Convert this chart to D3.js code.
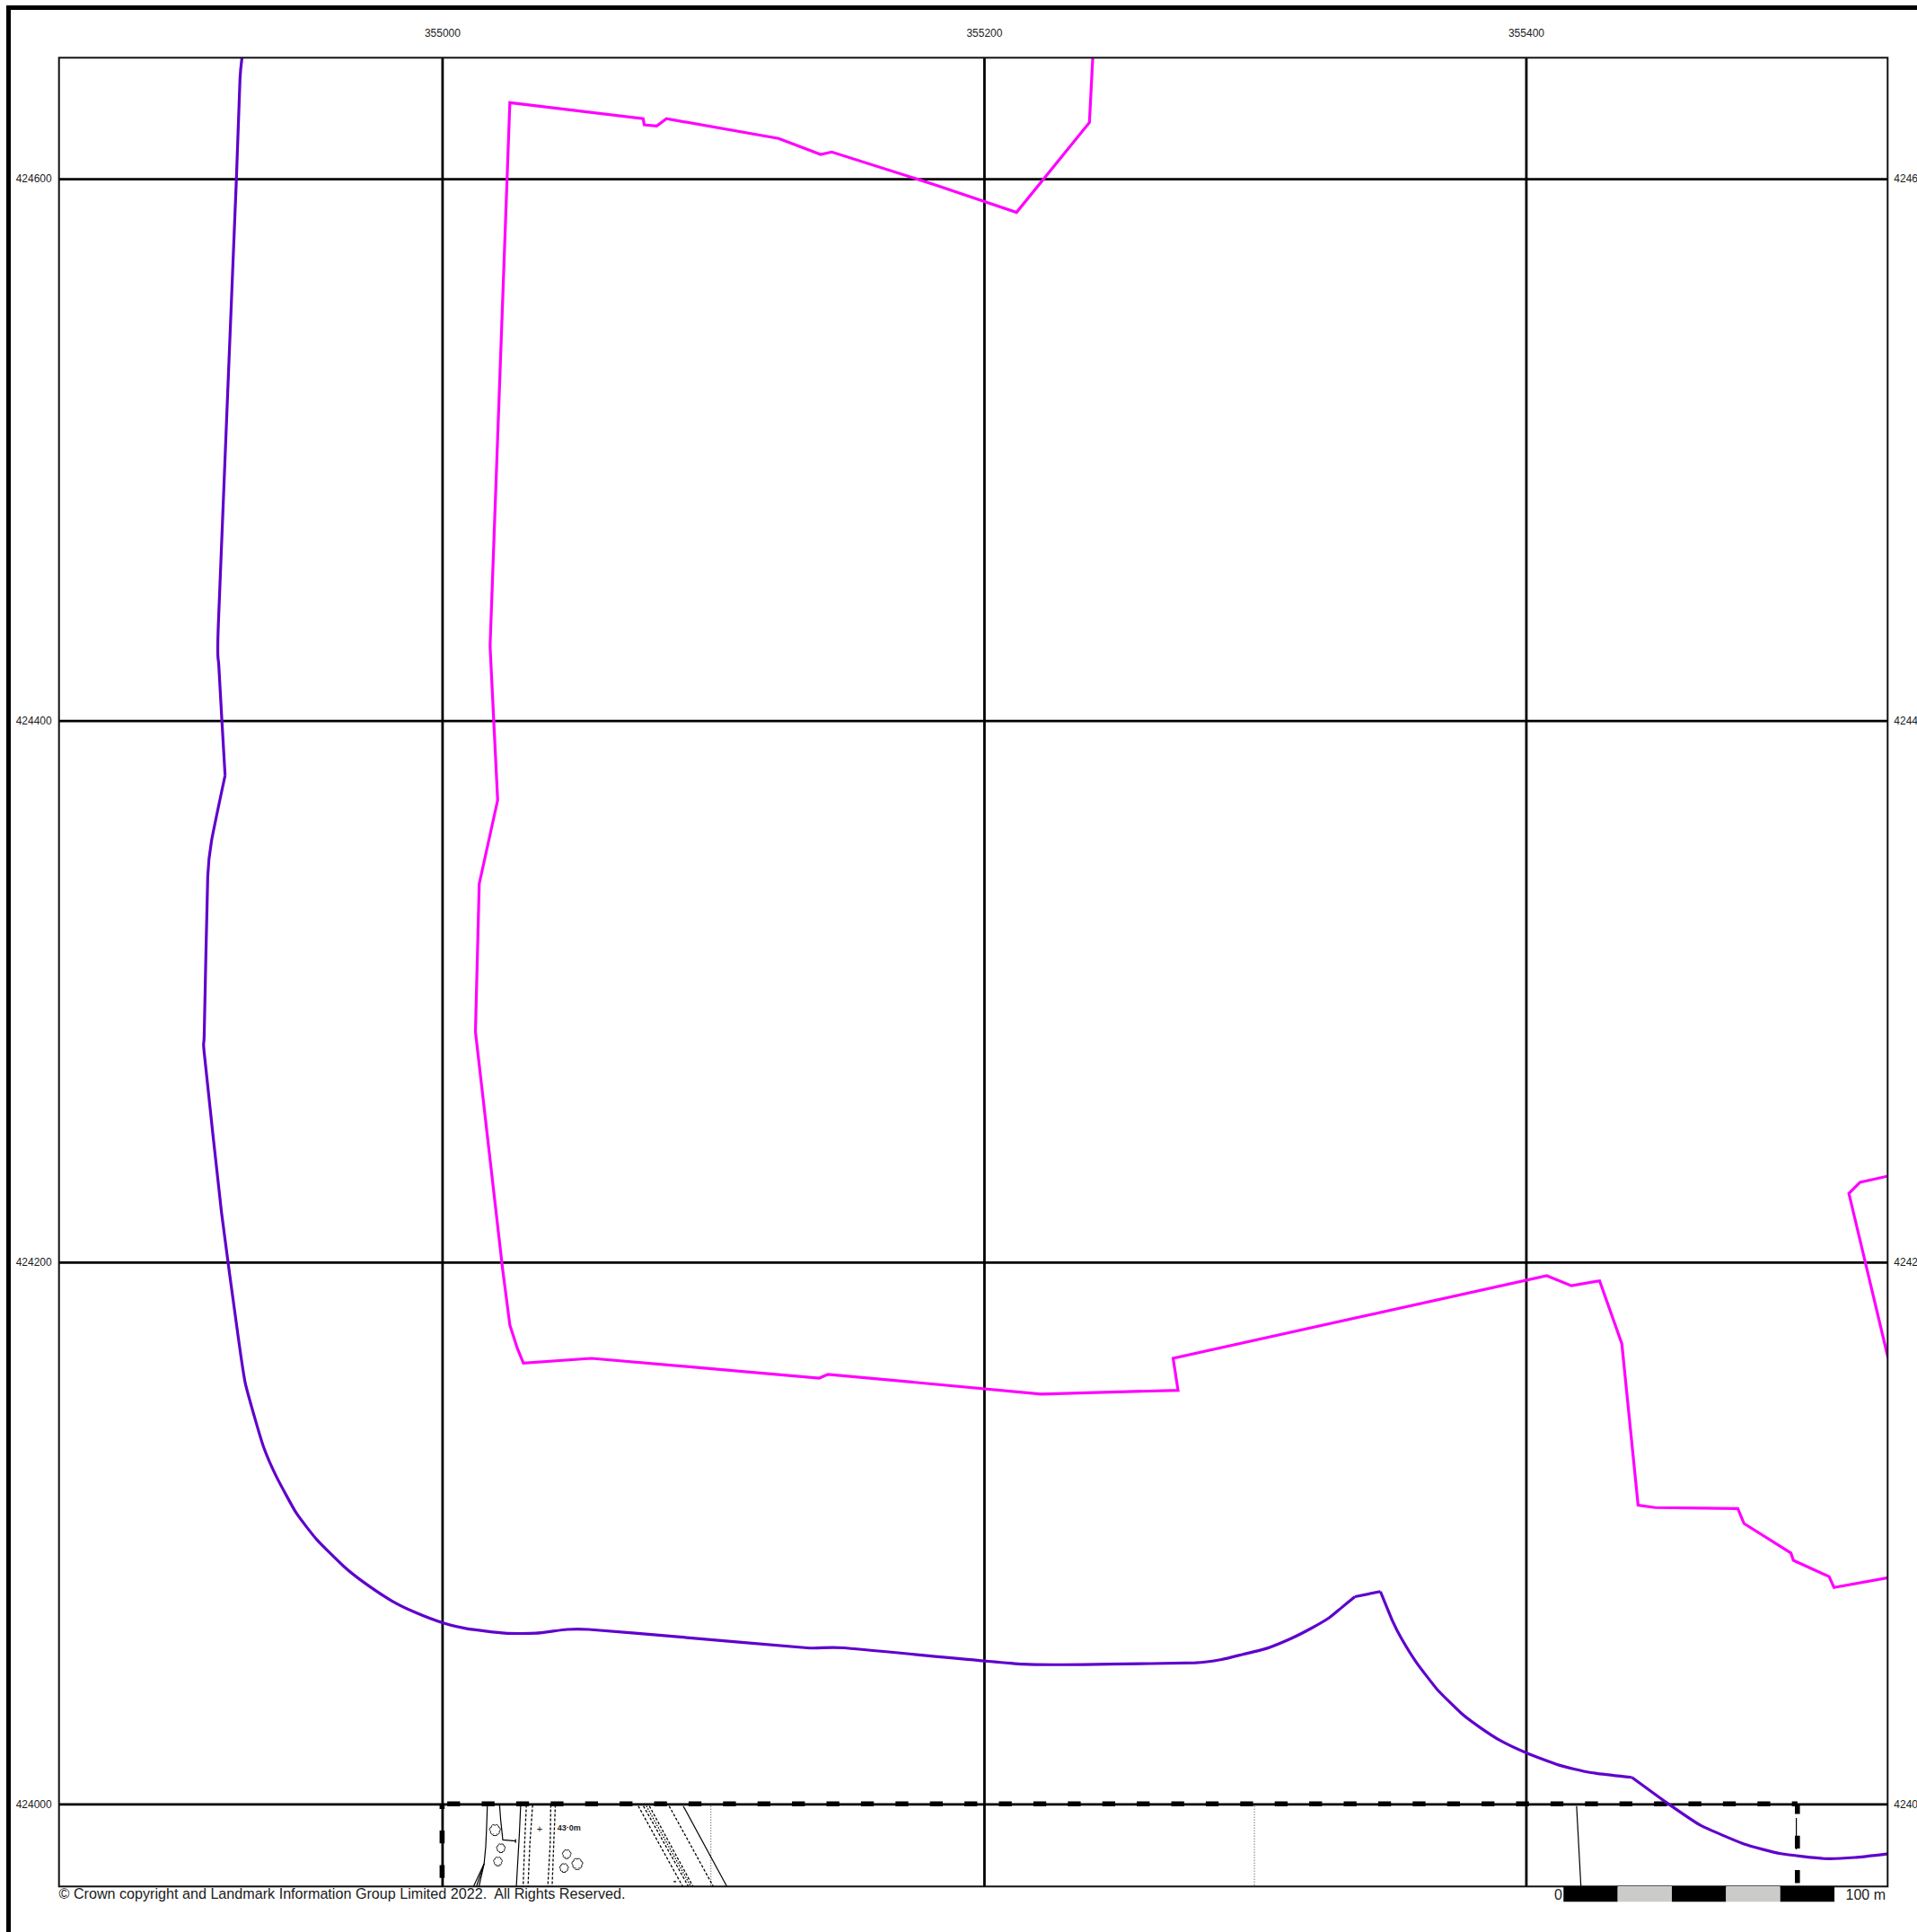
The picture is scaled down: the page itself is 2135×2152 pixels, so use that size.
<!DOCTYPE html>
<html>
<head>
<meta charset="utf-8">
<script src="https://cdn.jsdelivr.net/npm/d3@7"></script>
<style>
  html, body { margin: 0; padding: 0; background: #fff; overflow: hidden; }
  svg { display: block; }
  text { font-family: "Liberation Sans", Arial, sans-serif; fill: #1a1a1a; }
  .axis path.domain { display: none; }
  .axis line { stroke: #000; stroke-width: 2.8; }
  .axis text { font-size: 12px; }
</style>
</head>
<body>
<svg id="map" width="2135" height="2152"></svg>
<script>
// all positions are metres from the grid origin
var originE = 355000, originN = 424000;
var eastTicks = [0, 200, 400];
var northTicks = [0, 200, 400, 600];

var purpleLine = [[-73.7,646],[-74.6,636.8],[-76,598.1],[-82.6,435],[-82.4,420],[-80.1,379.7],[-85.1,355.6],
  [-86.5,342.4],[-87.8,284.1],[-87.8,277.3],[-81.4,218.2],[-75.2,172],[-72.7,155.6],[-69.4,143.4],[-65.8,131.5],
  [-61.1,120.7],[-53.9,107.5],[-46.2,97.5],[-36.2,87.6],[-28.5,81.5],[-18.5,74.9],[-9.7,70.6],[0.1,66.9],[9.1,64.7],
  [23.2,63],[34.6,63],[46,64.4],[54.1,64.4],[86.9,61.7],[134.7,57.6],[148.3,57.6],[214.3,51.6],[246.2,51.6],[278,52.1],
  [287.7,53.3],[295.5,55.2],[304.3,57.4],[313.2,61],[320.9,64.9],[327.5,68.8],[331.9,72.4],[336.9,76.5],[346.3,78.4],
  [350.7,67.7],[354.1,61],[359.6,52.2],[367.3,42.2],[376.2,33.4],[382.8,28.4],[390.5,23.4],[400.2,18.8],[412.2,14.3],
  [423.6,11.6],[439.1,9.8],[452.3,0.2],[464.6,-8],[480.5,-14.8],[494.1,-18.4],[510,-20.2],[521.4,-19.8],[533.7,-18.4]];
// sharp bends of the purple line, the smoothing stops at these
var purpleCorners = ['-80.1,379.7', '336.9,76.5', '346.3,78.4', '439.1,9.8'];

var magentaLine = [[240.2,646],[238.9,620.8],[212,587.6],[182.5,597.6],[143.8,609.9],[139.7,609],[124.2,614.9],
  [82.8,622.2],[79.2,619.5],[74.6,619.9],[74.2,622.2],[25,628.1],[17.7,427.5],[20.5,370.6],[13.7,339.7],[12.3,285.1],
  [22.3,197.7],[25,176.8],[27.8,168.1],[30,162.7],[55.1,164.5],[139.2,157.2],[142.4,158.6],[221.1,151.3],[271.6,152.7],
  [269.8,164.5],[407.7,195],[416.8,191.3],[427.2,193.1],[435.4,169.9],[441.4,110.3],[447.7,109.4],[478.2,109],
  [480.5,103.5],[497.8,92.6],[498.7,89.9],[511.9,83.9],[513.7,79.9],[533.7,83.5]];

var magentaCorner = [[533.7,231.8],[523.3,229.5],[519.2,225.4],[533.7,164.5]];

// site boundary, dashed
var boundaryTop = [[0,0],[500.2,0]];
var boundaryLeft = [[0,0],[0,-30.5]];
var boundaryRight = [[500.2,0],[500.2,-30.5]];

// base map linework below the 424000 line
var solidLines = [
  [[16.7,-0.4],[16.4,-9.1],[16.1,-15.7],[15.5,-22.1],[11.6,-30.5]],
  [[15.5,-22.1],[12.7,-30.5]],
  [[15.5,-22.1],[13.6,-30.5]],
  [[21.2,-0.4],[21.6,-5.7],[22.4,-13.3],[27.1,-13.7]],
  [[27.1,-13],[27.1,-14.4]],
  [[29,-0.4],[28.5,-11.3],[27.4,-30.5]],
  [[89,-0.8],[105.1,-30.5]],
  [[418.7,-0.8],[420.3,-30.5]],
  [[499.8,-5.2],[499.8,-16.8]],
  [[85.4,-28.7],[86.4,-28.7]]
];
var dashedLines = [
  [[31.1,-0.4],[30.5,-13.5],[29.9,-30.5]],
  [[33.4,-0.4],[32.4,-14.6],[31.7,-30.5]],
  [[40.1,-0.4],[39.9,-14.6],[39,-30.5]],
  [[41.8,-0.4],[41.2,-14.6],[40.6,-30.5]],
  [[72.4,-0.8],[88.8,-30.5]],
  [[74.3,-0.8],[90.9,-30.5]],
  [[76.5,-0.8],[92.6,-30.5]],
  [[83.8,-0.8],[100.1,-30.5]]
];
var dottedLines = [
  [[75.4,-0.8],[91.8,-30.5]],
  [[99.2,-0.8],[99.2,-30.5]],
  [[299.8,-0.8],[299.8,-30.5]]
];
var treePoints = [[19.5,-9.6,1.25],[21.7,-16.3,1],[20.6,-21.2,1],[46,-18.5,1],[49.9,-22.1,1.25],[45,-23.6,1]];
var heightMark = [36,-9.3];
var heightLabel = '43·0m';

var scaleStops = [0, 20, 40, 60, 80, 100];
var scaleColours = ['#000', '#cbccc9', '#000', '#cbccc9', '#000'];
var copyright = '© Crown copyright and Landmark Information Group Limited 2022.  All Rights Reserved.';

var svg = d3.select('#map');
var x = d3.scaleLinear().domain([-141.4, 533.5]).range([65.7, 2102.3]);
var y = d3.scaleLinear().domain([644.7, -30.5]).range([64.3, 2101.3]);
var plotW = x.range()[1] - x.range()[0];
var plotH = y.range()[1] - y.range()[0];
var line = d3.line().x(function(d){ return x(d[0]); }).y(function(d){ return y(d[1]); });
var smooth = d3.line().x(function(d){ return x(d[0]); }).y(function(d){ return y(d[1]); })
  .curve(d3.curveCardinal.tension(0.5));

svg.append('defs').append('clipPath').attr('id', 'plot').append('rect')
  .attr('x', x.range()[0]).attr('y', y.range()[0]).attr('width', plotW).attr('height', plotH);

// outer sheet border, runs off the page on the right and at the bottom
svg.append('rect').attr('x', 9.5).attr('y', 8.5).attr('width', 2300).attr('height', 2300)
  .attr('fill', 'none').attr('stroke', '#000').attr('stroke-width', 5);

// grid and labels
svg.append('g').attr('class', 'axis').attr('transform', 'translate(0,' + y.range()[0] + ')')
  .call(d3.axisTop(x).tickValues(eastTicks).tickSize(-plotH).tickPadding(23)
    .tickFormat(function(d){ return originE + d; }));
svg.append('g').attr('class', 'axis').attr('transform', 'translate(' + x.range()[0] + ',0)')
  .call(d3.axisLeft(y).tickValues(northTicks).tickSize(-plotW).tickPadding(8)
    .tickFormat(function(d){ return originN + d; }));
svg.append('g').attr('class', 'axis').attr('transform', 'translate(' + x.range()[1] + ',0)')
  .call(d3.axisRight(y).tickValues(northTicks).tickSize(0).tickPadding(7)
    .tickFormat(function(d){ return originN + d; }));

var plot = svg.append('g').attr('clip-path', 'url(#plot)');

// base map
function drawLines(data, width, dash) {
  plot.append('g').selectAll('path').data(data).join('path')
    .attr('d', line).attr('fill', 'none').attr('stroke', '#000')
    .attr('stroke-width', width).attr('stroke-dasharray', dash);
}
drawLines(solidLines, 1.2, null);
drawLines(dashedLines, 1.3, '3 2');
drawLines(dottedLines.slice(0, 1), 1.3, '1.5 1.5');
drawLines(dottedLines.slice(1), 0.8, '1 2');

// cloud outline with a short base, as on the OS sheets
var treeShape = {
  draw: function(ctx, size) {
    var r = Math.sqrt(size) / 3;
    for (var i = 0; i < 6; i++) {
      var a = Math.PI * (0.75 + i * 0.3);
      var cx = Math.cos(a) * r * 0.95, cy = Math.sin(a) * r * 0.95;
      ctx.arc(cx, cy, r * 0.6, a - 1.3, a + 1.3);
    }
    ctx.moveTo(-r * 0.6, r * 1.6);
    ctx.lineTo(r * 0.6, r * 1.6);
  }
};
plot.append('g').selectAll('path').data(treePoints).join('path')
  .attr('d', function(d){ return d3.symbol().type(treeShape).size(90 * d[2] * d[2])(); })
  .attr('transform', function(d){ return 'translate(' + x(d[0]) + ',' + y(d[1]) + ')'; })
  .attr('fill', 'none').attr('stroke', '#000').attr('stroke-width', 0.9);

plot.append('text').attr('x', x(heightMark[0])).attr('y', y(heightMark[1]) + 4)
  .attr('text-anchor', 'middle').style('font-size', '11px').text('+');
plot.append('text').attr('x', x(42.5)).attr('y', y(-9.7))
  .style('font-size', '9px').style('font-weight', 'bold').text(heightLabel);

// site boundary
function drawBoundary(data, offset) {
  plot.append('path').datum(data).attr('d', line).attr('fill', 'none').attr('stroke', '#000')
    .attr('stroke-width', 5.6).attr('stroke-dasharray', '14.3 24.1').attr('stroke-dashoffset', offset);
}
drawBoundary(boundaryTop, 32.7);
drawBoundary(boundaryLeft, 8.7);
drawBoundary(boundaryRight, 3);

// survey lines
plot.append('path').datum(magentaLine).attr('d', line).attr('fill', 'none').attr('stroke', '#ff00ff').attr('stroke-width', 3.2);
plot.append('path').datum(magentaCorner).attr('d', line).attr('fill', 'none').attr('stroke', '#ff00ff').attr('stroke-width', 3.2);

// break the purple line at its corners so that only the bends get rounded
var purpleRuns = [[]];
purpleLine.forEach(function(p) {
  purpleRuns[purpleRuns.length - 1].push(p);
  if (purpleCorners.indexOf(p.join(',')) >= 0) purpleRuns.push([p]);
});
plot.append('g').selectAll('path').data(purpleRuns).join('path')
  .attr('d', smooth).attr('fill', 'none').attr('stroke', '#5f00cc').attr('stroke-width', 3.2);

// plot frame
svg.append('rect').attr('x', x.range()[0]).attr('y', y.range()[0]).attr('width', plotW).attr('height', plotH)
  .attr('fill', 'none').attr('stroke', '#111').attr('stroke-width', 2);

// footer
svg.append('text').attr('x', 65.5).attr('y', 2115).attr('xml:space', 'preserve')
  .style('white-space', 'pre').style('font-size', '16.15px').text(copyright);

var barLeft = 1741.3;
var barScale = d3.scaleLinear().domain([0, 100]).range([barLeft, barLeft + (x(100) - x(0))]);
svg.append('g').selectAll('rect').data(scaleColours).join('rect')
  .attr('x', function(d, i){ return barScale(scaleStops[i]); })
  .attr('width', function(d, i){ return barScale(scaleStops[i + 1]) - barScale(scaleStops[i]); })
  .attr('y', 2101).attr('height', 17.3)
  .attr('fill', function(d){ return d; });
svg.append('text').attr('x', barLeft - 1.5).attr('y', 2115.5).attr('text-anchor', 'end').style('font-size', '16px').text('0');
svg.append('text').attr('x', 2100).attr('y', 2115.5).attr('text-anchor', 'end').style('font-size', '16px').text('100 m');
</script>
</body>
</html>
